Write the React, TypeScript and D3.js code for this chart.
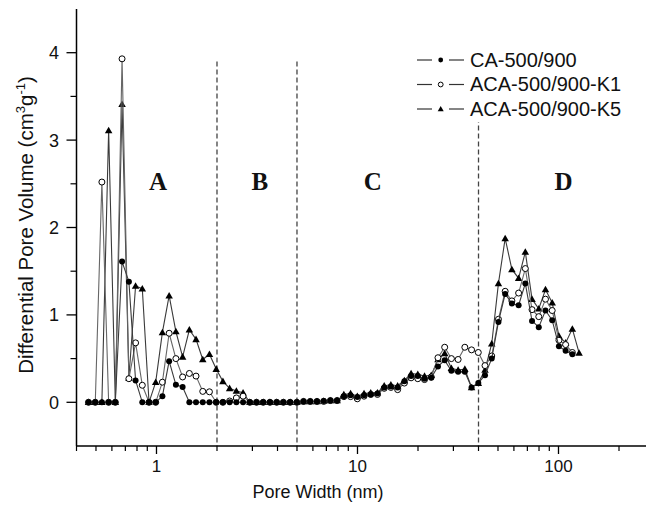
import React from 'react';
import * as d3 from 'd3';

// Pore width grid (nm)
const poreWidth = [
  0.459, 0.496, 0.535, 0.578, 0.624, 0.674, 0.729, 0.787, 0.850, 0.918,
  0.991, 1.070, 1.156, 1.249, 1.349, 1.457, 1.573, 1.699, 1.834, 1.982,
  2.140, 2.311, 2.497, 2.696, 2.912, 3.145, 3.396, 3.668, 3.962, 4.279,
  4.621, 4.991, 5.390, 5.821, 6.287, 6.790, 7.333, 7.920, 8.554, 9.239,
  9.979, 10.78, 11.64, 12.57, 13.58, 14.66, 15.84, 17.11, 18.48, 19.95,
  21.55, 23.27, 25.14, 27.15, 29.32, 31.67, 34.20, 36.94, 39.90, 43.09,
  46.54, 50.26, 54.29, 58.63, 63.33, 68.39, 73.86, 79.78, 86.16, 93.04,
  100.5, 108.5, 117.2, 126.6,
];

const caValues = [
  0, 0, 0, 0, 0, 1.61, 1.38, 0.25, 0, 0,
  0, 0.07, 0.47, 0.20, 0.175, 0, 0, 0, 0, 0,
  0, 0, 0, 0, 0, 0, 0, 0, 0, 0,
  0, 0, 0.01, 0.01, 0.01, 0.015, 0.02, 0.02, 0.07, 0.08,
  0.06, 0.08, 0.09, 0.10, 0.17, 0.18, 0.17, 0.24, 0.30, 0.30,
  0.27, 0.28, 0.41, 0.48, 0.36, 0.35, 0.35, 0.17, 0.22, 0.31,
  0.50, 0.92, 1.24, 1.13, 1.11, 1.36, 0.93, 0.86, 1.05, 0.94,
  0.64, 0.59, 0.55,
];

const k1Values = [
  0, 0, 2.52, 0, 0, 3.93, 0.27, 0.68, 0.195, 0,
  0, 0.23, 0.79, 0.50, 0.29, 0.33, 0.30, 0.125, 0.12, 0,
  0, 0.015, 0.05, 0.07, 0, 0, 0, 0, 0, 0,
  0, 0, 0.01, 0.01, 0.01, 0.01, 0.02, 0.02, 0.065, 0.065,
  0.04, 0.07, 0.09, 0.09, 0.16, 0.17, 0.145, 0.22, 0.28, 0.27,
  0.26, 0.29, 0.51, 0.63, 0.50, 0.49, 0.63, 0.60, 0.57, 0.42,
  0.53, 0.95, 1.27, 1.16, 1.25, 1.53, 1.06, 0.98, 1.18, 1.05,
  0.71, 0.66, 0.57,
];

const k5Values = [
  0, 0, 0, 3.11, 0, 3.41, 0.28, 1.33, 1.30, 0,
  0.23, 0.80, 1.22, 0.81, 0.52, 0.83, 0.72, 0.49, 0.55, 0.38,
  0.24, 0.16, 0.13, 0.11, 0, 0, 0, 0, 0, 0,
  0, 0, 0.01, 0.01, 0.01, 0.015, 0.02, 0.02, 0.09, 0.10,
  0.07, 0.10, 0.11, 0.11, 0.19, 0.20, 0.19, 0.25, 0.33, 0.32,
  0.30, 0.31, 0.49, 0.56, 0.39, 0.37, 0.38, 0.17, 0.22, 0.37,
  0.67, 1.36, 1.875, 1.52, 1.42, 1.72, 1.18, 1.07, 1.29, 1.14,
  0.76, 0.68, 0.84, 0.565,
];

const seriesNames = ['CA-500/900', 'ACA-500/900-K1', 'ACA-500/900-K5'];
const regionLabels = ['A', 'B', 'C', 'D'];
const regionLabelX = [1.017, 3.27, 11.9, 106];
const regionLabelY = 2.43;
const regionBounds = [2, 5, 40];
const boundTop = 3.9;

const yMajorTicks = [0, 1, 2, 3, 4];
const yMinorTicks = [0.5, 1.5, 2.5, 3.5];
const xMajorTicks = [1, 10, 100];
const xMajorLabels = ['1', '10', '100'];
const xMinorTicks = [0.4, 0.5, 0.6, 0.7, 0.8, 0.9, 2, 3, 4, 5, 6, 7, 8, 9, 20, 30, 40, 50, 60, 70, 80, 90, 200];

const W = 646;
const H = 511;

type Kind = 'filled' | 'open' | 'triangle';

function Marker({ kind, cx, cy, r }: { kind: Kind; cx: number; cy: number; r: number }) {
  if (kind === 'triangle') {
    const s = r * 1.25;
    const pts = `${cx},${cy - s} ${cx - s},${cy + s * 0.75} ${cx + s},${cy + s * 0.75}`;
    return <polygon points={pts} fill="#000" />;
  }
  if (kind === 'open') {
    return <circle cx={cx} cy={cy} r={r} fill="#fff" stroke="#000" strokeWidth={1} />;
  }
  return <circle cx={cx} cy={cy} r={r} fill="#000" />;
}

export default function App() {
  const x = d3.scaleLog().domain([0.4, 300]).range([76.5, 654.4]);
  const y = d3.scaleLinear().domain([-0.5, 4.5]).range([446, 9]);
  const x0 = 76.5;
  const yBottom = y(-0.5);

  const series: { name: string; vals: number[]; kind: Kind; color: string }[] = [
    { name: seriesNames[2], vals: k5Values, kind: 'triangle', color: '#3a3a3a' },
    { name: seriesNames[1], vals: k1Values, kind: 'open', color: '#666' },
    { name: seriesNames[0], vals: caValues, kind: 'filled', color: '#3a3a3a' },
  ];

  const line = d3
    .line<[number, number]>()
    .x((d) => x(d[0]))
    .y((d) => y(d[1]));

  const legendOrder: { name: string; kind: Kind }[] = [
    { name: seriesNames[0], kind: 'filled' },
    { name: seriesNames[1], kind: 'open' },
    { name: seriesNames[2], kind: 'triangle' },
  ];

  const font = 'Liberation Sans, Arial, sans-serif';

  return (
    <div style={{ position: 'absolute', left: 0, top: 0 }}>
      <svg width={W} height={H} style={{ display: 'block', background: '#fff' }}>
        <rect x={0} y={0} width={W} height={H} fill="#fff" />
        {/* region boundaries */}
        {regionBounds.map((b, i) => (
          <line
            key={'b' + i}
            x1={x(b)}
            x2={x(b)}
            y1={y(boundTop)}
            y2={yBottom}
            stroke="#444"
            strokeWidth={1.3}
            strokeDasharray="5,3"
          />
        ))}
        {/* region labels */}
        {regionLabels.map((l, i) => (
          <text
            key={'r' + i}
            x={x(regionLabelX[i])}
            y={y(regionLabelY)}
            textAnchor="middle"
            fontFamily="Liberation Serif, Times New Roman, serif"
            fontWeight="bold"
            fontSize={25}
            fill="#111"
          >
            {l}
          </text>
        ))}
        {/* series */}
        {series.map((s, si) => {
          const pts: [number, number][] = s.vals.map((v, i) => [poreWidth[i], v]);
          return (
            <g key={'s' + si}>
              <path d={line(pts) || ''} fill="none" stroke={s.color} strokeWidth={1.1} />
              {pts.map((p, i) => (
                <Marker key={i} kind={s.kind} cx={x(p[0])} cy={y(p[1])} r={3} />
              ))}
            </g>
          );
        })}
        {/* axes */}
        <line x1={x0} x2={x0} y1={y(4.5)} y2={yBottom} stroke="#000" strokeWidth={1.5} />
        <line x1={x0} x2={W + 20} y1={yBottom} y2={yBottom} stroke="#000" strokeWidth={1.5} />
        {yMajorTicks.map((t) => (
          <g key={'ym' + t}>
            <line x1={x0 - 10} x2={x0} y1={y(t)} y2={y(t)} stroke="#000" strokeWidth={1.3} />
            <text x={59} y={y(t) + 6.5} textAnchor="end" fontFamily={font} fontSize={18} fill="#111">
              {String(t)}
            </text>
          </g>
        ))}
        {yMinorTicks.map((t) => (
          <line key={'yn' + t} x1={x0 - 6} x2={x0} y1={y(t)} y2={y(t)} stroke="#000" strokeWidth={1.2} />
        ))}
        {xMajorTicks.map((t, i) => (
          <g key={'xm' + t}>
            <line x1={x(t)} x2={x(t)} y1={yBottom} y2={yBottom + 8} stroke="#000" strokeWidth={1.3} />
            <text x={x(t)} y={472} textAnchor="middle" fontFamily={font} fontSize={17} fill="#111">
              {xMajorLabels[i]}
            </text>
          </g>
        ))}
        {xMinorTicks.map((t) => (
          <line key={'xn' + t} x1={x(t)} x2={x(t)} y1={yBottom} y2={yBottom + 5} stroke="#000" strokeWidth={1.2} />
        ))}
        {/* axis titles */}
        <text x={318} y={498} textAnchor="middle" fontFamily={font} fontSize={18} fill="#111">
          Pore Width (nm)
        </text>
        <text
          transform="translate(33,225) rotate(-90)"
          textAnchor="middle"
          fontFamily={font}
          fontSize={20.5}
          fill="#111"
        >
          Differential Pore Volume (cm
          <tspan dy={-8} fontSize={13}>3</tspan>
          <tspan dy={8}>g</tspan>
          <tspan dy={-8} fontSize={13}>-1</tspan>
          <tspan dy={8}>)</tspan>
        </text>
        {/* legend */}
        <rect x={410} y={46} width={230} height={76} fill="#fff" />
        {legendOrder.map((l, i) => {
          const cy = 60 + i * 24.5;
          return (
            <g key={'l' + i}>
              <line x1={417} x2={432} y1={cy} y2={cy} stroke="#333" strokeWidth={1.2} />
              <line x1={449} x2={464} y1={cy} y2={cy} stroke="#333" strokeWidth={1.2} />
              <Marker kind={l.kind} cx={440.7} cy={cy} r={2.4} />
              <text x={470} y={cy + 6.8} fontFamily={font} fontSize={20} fill="#111">
                {l.name}
              </text>
            </g>
          );
        })}
      </svg>
    </div>
  );
}
